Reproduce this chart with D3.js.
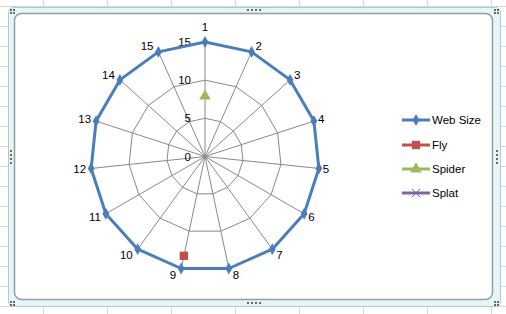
<!DOCTYPE html>
<html>
<head>
<script src="https://d3js.org/d3.v7.min.js"></script>
<style>
  body { margin: 0; background: #fff; }
  text { font-family: "Liberation Sans", Arial, sans-serif; font-size: 11.5px; fill: #000; }
  .grid { fill: none; stroke: #8a8a8a; stroke-width: 1px; }
</style>
</head>
<body>
<script>
// chart data
var categories = ["1", "2", "3", "4", "5", "6", "7", "8", "9", "10", "11", "12", "13", "14", "15"];
var webSize = [15, 15, 15, 15, 15, 15, 15, 15, 15, 15, 15, 15, 15, 15, 15];
var fly = [null, null, null, null, null, null, null, null, 13.3, null, null, null, null, null, null];
var spider = [7.9, null, null, null, null, null, null, null, null, null, null, null, null, null, null];
var splat = [null, null, null, null, null, null, null, null, null, null, null, null, null, null, null];
var ticks = [0, 5, 10, 15];
var seriesNames = ["Web Size", "Fly", "Spider", "Splat"];
var seriesColors = ["#4a7ebb", "#c0504d", "#9bbb59", "#8064a2"];

var W = 506, H = 314;
var svg = d3.select("body").append("svg").attr("width", W).attr("height", H);

// spreadsheet cells behind the chart
var colX = d3.range(43, W, 64), rowY = d3.range(6, H, 20);
svg.selectAll(".vline").data(colX).enter().append("line")
  .attr("x1", d => d + 0.5).attr("x2", d => d + 0.5).attr("y1", 0).attr("y2", H)
  .attr("stroke", "#d0d7e5");
svg.selectAll(".hline").data(rowY).enter().append("line")
  .attr("x1", 0).attr("x2", W).attr("y1", d => d + 0.5).attr("y2", d => d + 0.5)
  .attr("stroke", "#d0d7e5");

// chart frame (selected look)
svg.append("rect").attr("x", 8.5).attr("y", 7.5).attr("width", 492).attr("height", 299)
  .attr("rx", 5).attr("fill", "#e3f7f9").attr("stroke", "#b4c8cc");
svg.append("rect").attr("x", 14.5).attr("y", 13.5).attr("width", 478).attr("height", 286)
  .attr("rx", 7).attr("fill", "#fff").attr("stroke", "#9a9a9a").attr("stroke-width", 1.5);

function grip(x, y, vertical) {
  for (var i = 0; i < 4; i++) {
    svg.append("rect").attr("x", vertical ? x : x + i * 4).attr("y", vertical ? y + i * 4 : y)
      .attr("width", 2).attr("height", 2).attr("fill", "#6a6a6a");
  }
}
function corner(x, y) {
  [[0, 0], [3, 0], [0, 3], [3, 3]].forEach(function (o) {
    svg.append("rect").attr("x", x + o[0]).attr("y", y + o[1]).attr("width", 2).attr("height", 2).attr("fill", "#6a6a6a");
  });
}
grip(247, 9, false); grip(247, 302, false); grip(10, 150, true); grip(496, 150, true);
corner(10, 9); corner(494, 9); corner(10, 301); corner(494, 301);

// radar
var cx = 205, cy = 156.5;
var r = d3.scaleLinear().domain([0, 15]).range([0, 114.5]);
var ang = d3.scaleLinear().domain([0, categories.length]).range([0, 2 * Math.PI]);
function px(i, v) { return cx + r(v) * Math.sin(ang(i)); }
function py(i, v) { return cy - r(v) * Math.cos(ang(i)); }

var g = svg.append("g");
// rings
ticks.slice(1).forEach(function (t) {
  g.append("path").attr("class", "grid")
    .attr("d", d3.line()(categories.map((c, i) => [px(i, t), py(i, t)])) + "Z");
});
// spokes
g.selectAll(".spoke").data(categories).enter().append("line").attr("class", "grid")
  .attr("x1", cx).attr("y1", cy)
  .attr("x2", (d, i) => px(i, 15)).attr("y2", (d, i) => py(i, 15));

// tick labels
g.selectAll(".tick").data(ticks).enter().append("text")
  .attr("x", cx - 14).attr("y", d => cy - r(d) + 1)
  .attr("text-anchor", "end").attr("dominant-baseline", "middle")
  .text(d => d);

// category labels
g.selectAll(".cat").data(categories).enter().append("text")
  .attr("x", function (d, i) {
    var s = Math.sin(ang(i));
    return px(i, 15) + (Math.abs(s) < 0.05 ? 0 : (s > 0 ? 4 : -5));
  })
  .attr("y", function (d, i) {
    var c = Math.cos(ang(i)), s = Math.sin(ang(i));
    return py(i, 15) - c * (Math.abs(s) < 0.05 ? 15 : 7) + 1;
  })
  .attr("text-anchor", function (d, i) {
    var s = Math.sin(ang(i));
    return Math.abs(s) < 0.05 ? "middle" : (s > 0 ? "start" : "end");
  })
  .attr("dominant-baseline", "middle")
  .text(d => d);

// Web Size polygon
var pts = webSize.map((v, i) => [px(i, v), py(i, v)]);
g.append("path").attr("d", d3.line()(pts) + "Z")
  .attr("fill", "none").attr("stroke", seriesColors[0]).attr("stroke-width", 3)
  .attr("stroke-linejoin", "round");

var sym = [d3.symbolDiamond, d3.symbolSquare, d3.symbolTriangle, d3.symbolCross];
var symSize = [40, 70, 60, 40];
function markers(data, k) {
  g.selectAll(".m" + k).data(data.map((v, i) => ({ v: v, i: i })).filter(d => d.v != null))
    .enter().append("path")
    .attr("transform", d => "translate(" + px(d.i, d.v) + "," + py(d.i, d.v) + ")")
    .attr("d", d3.symbol().type(sym[k]).size(symSize[k]))
    .attr("fill", seriesColors[k]);
}
markers(webSize, 0); markers(fly, 1); markers(spider, 2); markers(splat, 3);

// legend
var legY = [120, 145, 169, 193];
var leg = svg.selectAll(".leg").data(seriesNames).enter().append("g")
  .attr("transform", (d, i) => "translate(402," + legY[i] + ")");
leg.append("line").attr("x1", 0).attr("x2", 28).attr("y1", 0).attr("y2", 0)
  .attr("stroke", (d, i) => seriesColors[i]).attr("stroke-width", 3);
leg.append("path")
  .attr("transform", "translate(14,0)")
  .attr("d", (d, i) => i === 3
    ? "M-4,-4L4,4M-4,4L4,-4"
    : d3.symbol().type(sym[i]).size(symSize[i])())
  .attr("fill", (d, i) => seriesColors[i])
  .attr("stroke", (d, i) => i === 3 ? seriesColors[i] : "none");
leg.append("text").attr("x", 30).attr("y", 1).attr("dominant-baseline", "middle")
  .text(d => d);
</script>
</body>
</html>
